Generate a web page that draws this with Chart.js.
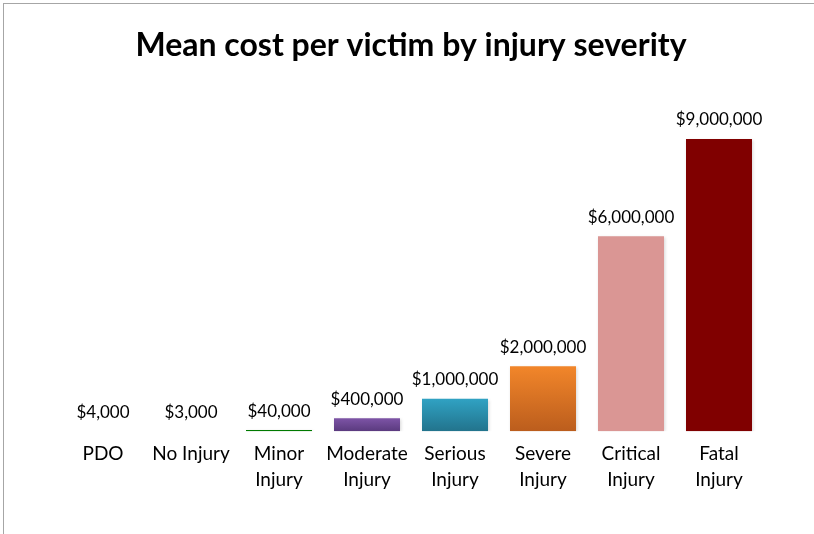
<!DOCTYPE html>
<html>
<head>
<meta charset="utf-8">
<script src="https://cdn.jsdelivr.net/npm/chart.js@4"></script>
<style>
    html, body { margin: 0; padding: 0; background: #ffffff; }
    #wrap { position: relative; width: 814px; height: 534px; }
    #frame { position: absolute; left: 3px; top: 3px; right: -5px; bottom: -5px; border: 1px solid #a6a6a6; }
    canvas { position: absolute; left: 0; top: 0; }
</style>
</head>
<body>
<div id="wrap">
    <div id="frame"></div>
    <canvas id="chart" width="814" height="534"></canvas>
</div>
<script>
const categories = [
    'PDO', 'No Injury', ['Minor', 'Injury'], ['Moderate', 'Injury'],
    ['Serious', 'Injury'], ['Severe', 'Injury'], ['Critical', 'Injury'], ['Fatal', 'Injury']
];
const meanCost = [4000, 3000, 40000, 400000, 1000000, 2000000, 6000000, 9000000];

// цвета столбцов: [верх, низ] градиента
const barColors = [
    ['#ffffff', '#ffffff'],
    ['#ffffff', '#ffffff'],
    ['#007a00', '#007a00'],
    ['#7d54a6', '#5a3a7e'],
    ['#30a2c3', '#22738c'],
    ['#f2862a', '#bb5d1d'],
    ['#da9694', '#da9694'],
    ['#800000', '#800000']
];

const fontFamily = "Lato, 'Open Sans', sans-serif";
const money = v => '$' + v.toLocaleString('en-US');

const gradientFill = (context) => {
    const chart = context.chart;
    const area = chart.chartArea;
    const pair = barColors[context.dataIndex];
    if (!area || !chart.scales.y) return pair[0];
    const top = chart.scales.y.getPixelForValue(meanCost[context.dataIndex]);
    const g = chart.ctx.createLinearGradient(0, Math.min(top, area.bottom - 1), 0, area.bottom);
    g.addColorStop(0, pair[0]);
    g.addColorStop(1, pair[1]);
    return g;
};

// тень под столбцами
const shadowPlugin = {
    id: 'shadowPlugin',
    beforeDatasetDraw(chart) {
        const ctx = chart.ctx;
        ctx.save();
        ctx.shadowColor = 'rgba(0,0,0,0.16)';
        ctx.shadowBlur = 3;
        ctx.shadowOffsetX = 1;
        ctx.shadowOffsetY = 1;
    },
    afterDatasetDraw(chart) {
        chart.ctx.restore();
    }
};

// подписи значений над столбцами
const valueLabels = {
    id: 'valueLabels',
    afterDatasetsDraw(chart) {
        const ctx = chart.ctx;
        const meta = chart.getDatasetMeta(0);
        ctx.save();
        ctx.font = '17px ' + fontFamily;
        ctx.fillStyle = '#000000';
        ctx.textAlign = 'center';
        ctx.textBaseline = 'middle';
        meta.data.forEach((bar, i) => {
            ctx.fillText(money(meanCost[i]), bar.x, bar.y - 19);
        });
        ctx.restore();
    }
};

new Chart(document.getElementById('chart'), {
    type: 'bar',
    data: {
        labels: categories,
        datasets: [{
            data: meanCost,
            backgroundColor: gradientFill,
            borderWidth: 0,
            barPercentage: 0.75,
            categoryPercentage: 1
        }]
    },
    options: {
        responsive: false,
        animation: false,
        layout: { padding: { left: 59, right: 51, top: 0, bottom: 31 } },
        plugins: {
            legend: { display: false },
            tooltip: { enabled: false },
            title: {
                display: true,
                text: 'Mean cost per victim by injury severity',
                color: '#000000',
                font: { family: fontFamily, size: 32, weight: 'bold', lineHeight: 1.2 },
                padding: { top: 26, bottom: 42 }
            }
        },
        scales: {
            x: {
                grid: { display: false, drawTicks: false },
                border: { display: false },
                ticks: {
                    color: '#000000',
                    font: { family: fontFamily, size: 19, lineHeight: 1.36 },
                    padding: 10,
                    maxRotation: 0,
                    autoSkip: false
                }
            },
            y: {
                display: false,
                min: 0,
                max: 10000000
            }
        }
    },
    plugins: [shadowPlugin, valueLabels]
});
</script>
</body>
</html>
